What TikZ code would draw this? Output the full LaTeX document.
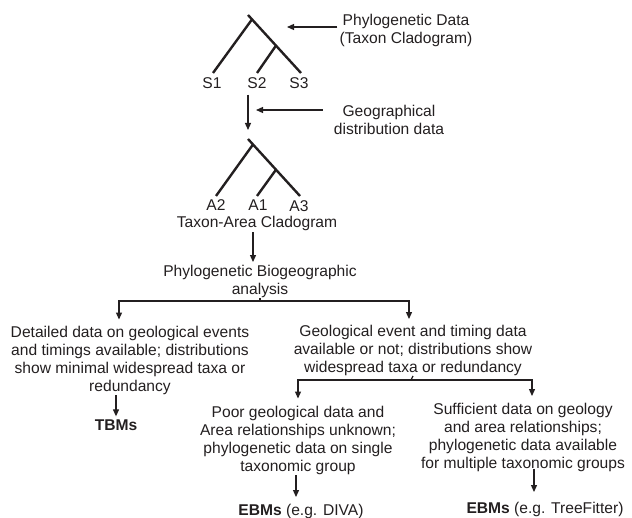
\documentclass[tikz,border=0pt]{standalone}
\usepackage{fontspec}
\setmainfont{Liberation Sans}
\usetikzlibrary{arrows.meta}
\definecolor{ink}{RGB}{35,31,32}

\begin{document}
\begin{tikzpicture}
  [x=1pt,y=-1pt,
   every node/.style={inner sep=0pt,align=center,text=ink,font=\fontsize{15.6}{18}\selectfont},
   branch/.style={draw=ink,line width=2.4pt},
   link/.style={draw=ink,line width=1.2pt},
   arr/.style={link,-{Triangle[length=7pt,width=6pt]}}]
  \useasboundingbox (0,0) rectangle (632,518);
  % taxon cladogram
  \coordinate (r1) at (248,15);
  \coordinate (j1) at (252,19.4);
  \coordinate (k1) at (276,45.6);
  \coordinate (t1) at (213,73);
  \coordinate (t2) at (257,73);
  \coordinate (t3) at (301,73);
  \node (s1) at (212,83) {S1};
  \node (s2) at (257,83) {S2};
  \node (s3) at (299,83) {S3};
  % taxon-area cladogram
  \coordinate (r2) at (248,139);
  \coordinate (j2) at (253,144.5);
  \coordinate (k2) at (276,169.7);
  \coordinate (u1) at (216,196);
  \coordinate (u2) at (257,196);
  \coordinate (u3) at (300,196);
  \node (a2) at (216,205.5) {A2};
  \node (a1) at (258,205.5) {A1};
  \node (a3) at (299,206.5) {A3};
  \foreach \from/\to in {r1/t3,j1/t1,k1/t2,r2/u3,j2/u1,k2/u2}
    \draw[branch] (\from) -- (\to);
  % text
  \node (pd) at (406,30) {Phylogenetic Data\\(Taxon Cladogram)};
  \node (gd) at (389,119.5) {Geographical\\distribution data};
  \node (ta) at (257,223) {Taxon-Area Cladogram};
  \node (pb) at (260,281.5) {Phylogenetic Biogeographic\\analysis};
  \node (dl) at (130,360) {Detailed data on geological events\\and timings available; distributions\\show minimal widespread taxa or\\redundancy};
  \node (gt) at (413,350.5) {Geological event and timing data\\available or not; distributions show\\widespread taxa or redundancy};
  \node (tbm) at (116,425) {\textbf{TBMs}};
  \node (poor) at (298,440) {Poor geological data and\\Area relationships unknown;\\phylogenetic data on single\\taxonomic group};
  \node (suff) at (523,437.5) {Sufficient data on geology\\and area relationships;\\phylogenetic data available\\for multiple taxonomic groups};
  \node (ebm1) at (301,511.5) {\textbf{EBMs} (e.g. DIVA)};
  \node (ebm2) at (545,509.5) {\textbf{EBMs} (e.g. TreeFitter)};
  \coordinate (pdtip) at (287,27);
  \coordinate (gdtip) at (256,110);
  \coordinate (sp1) at (260,301);
  \coordinate (sp2) at (411,380);
  % arrows
  \draw[arr] ([xshift=-2pt]pd.west |- pdtip) -- (pdtip);
  \draw[arr] ([xshift=-11pt]gd.west |- gdtip) -- (gdtip);
  \draw[arr,shorten <=6pt,shorten >=9pt] (s2.south -| r2) -- (r2);
  \draw[arr,shorten <=2pt,shorten >=3pt] ([xshift=-4pt]ta.south) -- ([xshift=-4pt]ta.south |- pb.north);
  \draw[link] (pb.south) -- (sp1);
  \draw[arr,shorten >=6pt] (sp1) -| ([xshift=-11pt]dl.north);
  \draw[arr,shorten >=6pt] (sp1) -| ([xshift=-4pt]gt.north);
  \draw[link] (gt.south) -- (sp2);
  \draw[arr,shorten >=7pt] (sp2) -| (poor.north);
  \draw[arr,shorten >=7pt] (sp2) -| ([xshift=9pt]suff.north);
  \draw[arr,shorten <=1pt,shorten >=3pt] (tbm.north |- dl.south) -- (tbm.north);
  \draw[arr,shorten <=1pt,shorten >=7pt] ([xshift=-2pt]poor.south) -- ([xshift=-2pt]poor.south |- ebm1.north);
  \draw[arr,shorten <=-3pt,shorten >=10pt] ([xshift=11pt]suff.south) -- ([xshift=11pt]suff.south |- ebm2.north);
\end{tikzpicture}
\end{document}
